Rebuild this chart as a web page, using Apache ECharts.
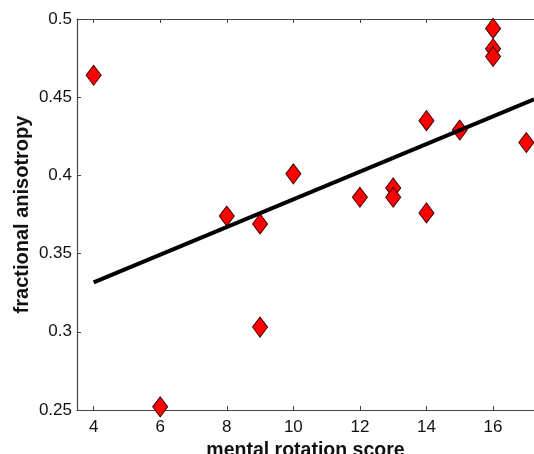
<!DOCTYPE html>
<html>
<head>
<meta charset="utf-8">
<script src="https://cdn.jsdelivr.net/npm/echarts@6/dist/echarts.min.js"></script>
<style>
  html, body { margin: 0; padding: 0; background: #fff; }
  #chart { width: 534px; height: 454px; }
</style>
</head>
<body>
<div id="chart"></div>
<script>
// mental rotation score vs fractional anisotropy
var scores = [4, 6, 8, 9, 9, 10, 12, 13, 13, 14, 14, 15, 16, 16, 16, 17];
var fa = [0.464, 0.252, 0.374, 0.369, 0.303, 0.401, 0.386, 0.392, 0.386,
          0.435, 0.376, 0.429, 0.494, 0.481, 0.476, 0.421];
// regression line end points
var fitX = [4, 17.23];
var fitY = [0.3316, 0.4487];

var xTicks = [4, 6, 8, 10, 12, 14, 16];

var chart = echarts.init(document.getElementById('chart'));

var pts = scores.map(function (s, i) { return [s, fa[i]]; });
var fit = fitX.map(function (x, i) { return [x, fitY[i]]; });

var font = 'Liberation Sans, Arial, Helvetica, sans-serif';
var axisCol = '#444';

var option = {
  animation: false,
  grid: { left: 77, top: 19, right: 0, bottom: 44, outerBoundsMode: 'none' },
  xAxis: [
    {
      type: 'value',
      min: 3.5,
      max: 17.23,
      name: 'mental rotation score',
      nameLocation: 'middle',
      nameGap: 28,
      nameTextStyle: { fontFamily: font, fontSize: 19.5, fontWeight: 'bold', color: '#111' },
      axisLine: { lineStyle: { color: axisCol, width: 1.2 } },
      axisTick: { inside: true, length: 4, customValues: xTicks, lineStyle: { color: axisCol } },
      axisLabel: { fontFamily: font, fontSize: 17, color: '#111', margin: 9, customValues: xTicks },
      splitLine: { show: false }
    },
    {
      type: 'value',
      position: 'top',
      min: 3.5,
      max: 17.23,
      axisLine: { lineStyle: { color: axisCol, width: 1.2 } },
      axisTick: { inside: true, length: 4, customValues: xTicks, lineStyle: { color: axisCol } },
      axisLabel: { show: false },
      splitLine: { show: false }
    }
  ],
  yAxis: {
    type: 'value',
    min: 0.25,
    max: 0.5,
    interval: 0.05,
    name: 'fractional anisotropy',
    nameLocation: 'middle',
    nameGap: 45,
    nameMoveOverlap: false,
    nameTextStyle: { fontFamily: font, fontSize: 20, fontWeight: 'bold', color: '#111' },
    axisLine: { show: true, lineStyle: { color: axisCol, width: 1.2 } },
    axisTick: { show: true, inside: true, length: 4, lineStyle: { color: axisCol } },
    axisLabel: {
      fontFamily: font, fontSize: 17, color: '#111', margin: 5,
      formatter: function (v) { return +v.toFixed(2); }
    },
    splitLine: { show: false }
  },
  series: [
    {
      type: 'line',
      data: fit,
      symbol: 'none',
      lineStyle: { color: '#000', width: 4 },
      z: 3
    },
    {
      type: 'scatter',
      data: pts,
      symbol: 'diamond',
      symbolSize: [15, 20],
      itemStyle: { color: '#ff0000', opacity: 1, borderColor: '#3a0000', borderWidth: 1 },
      z: 2
    }
  ]
};

chart.setOption(option);
</script>
</body>
</html>
